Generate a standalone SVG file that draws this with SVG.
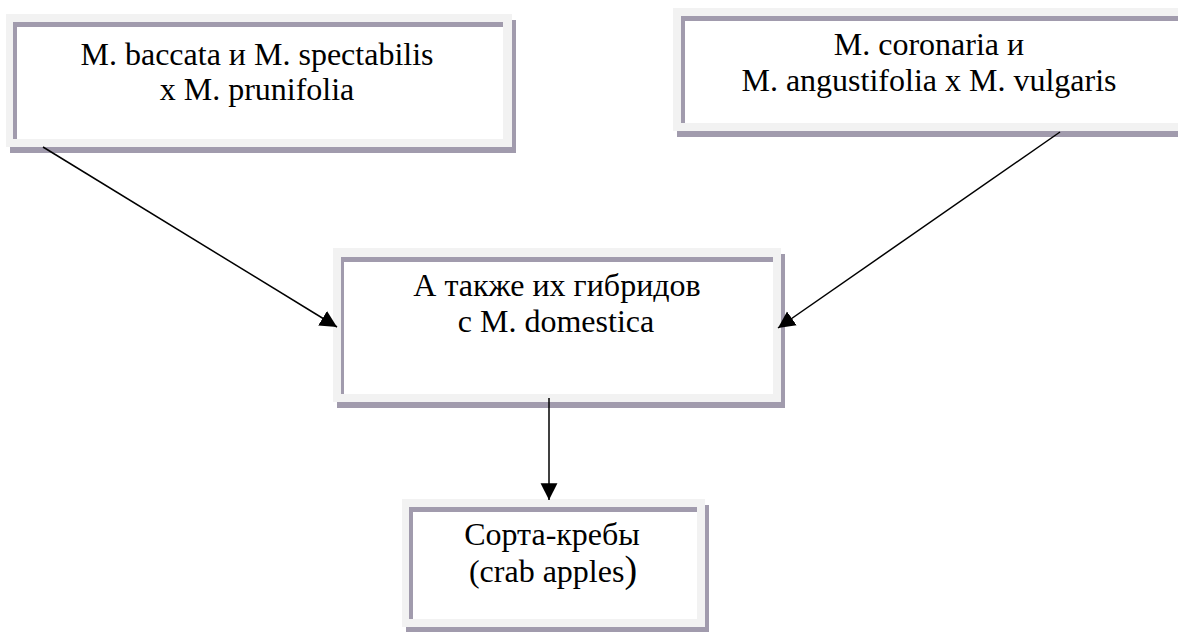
<svg xmlns="http://www.w3.org/2000/svg" width="1178" height="632" viewBox="0 0 1178 632">
<style>
.sh{fill:#a19bad}
.fr{fill:#f2f2f2}
.in{fill:#a19bad}
.wh{fill:#ffffff}
.t{font-family:'Liberation Serif', 'DejaVu Serif', serif;font-size:32px;fill:#000;text-anchor:middle}
.ln{stroke:#000;stroke-width:1.5;fill:none}
</style>
<defs>
<marker id="ah" markerUnits="userSpaceOnUse" markerWidth="18" markerHeight="18" viewBox="0 0 16 16" refX="15" refY="8" orient="auto">
<path d="M0,0.5 L15,8 L0,15.5 z" fill="#000"/>
</marker>
</defs>
<rect width="1178" height="632" fill="#fff"/>
<g id="node1">
<rect class="sh" x="10" y="20" width="506" height="133"/>
<rect class="fr" x="6" y="14" width="506" height="133"/>
<rect class="in" x="13" y="22" width="490" height="117"/>
<rect class="wh" x="17" y="27" width="486" height="112"/>
<text class="t" x="257" y="65">M. baccata и M. spectabilis</text>
<text class="t" x="257" y="100">x M. prunifolia</text>
</g>
<g id="node2">
<rect class="sh" x="677" y="14" width="510" height="123"/>
<rect class="fr" x="673" y="8" width="510" height="123"/>
<rect class="in" x="681" y="16" width="510" height="107"/>
<rect class="wh" x="685" y="21" width="510" height="102"/>
<text class="t" x="929" y="55">M. coronaria и</text>
<text class="t" x="929" y="91">M. angustifolia x M. vulgaris</text>
</g>
<g id="node3">
<rect class="sh" x="337" y="254" width="448" height="154"/>
<rect class="fr" x="333" y="248" width="448" height="154"/>
<rect class="in" x="341" y="257" width="432" height="137"/>
<rect class="wh" x="344" y="262" width="429" height="132"/>
<text class="t" x="557" y="296">А также их гибридов</text>
<text class="t" x="556" y="332">с M. domestica</text>
</g>
<g id="node4">
<rect class="sh" x="406" y="505" width="303" height="128"/>
<rect class="fr" x="402" y="499" width="303" height="128"/>
<rect class="in" x="409" y="507" width="288" height="112"/>
<rect class="wh" x="413" y="512" width="284" height="107"/>
<text class="t" x="552" y="545">Сорта-кребы</text>
<text class="t" x="553" y="582">(crab apples<tspan font-size="38">)</tspan></text>
</g>
<g id="connectors">
<line class="ln" x1="43" y1="147" x2="337" y2="327" marker-end="url(#ah)"/>
<line class="ln" x1="1060" y1="132" x2="778" y2="328" marker-end="url(#ah)"/>
<line class="ln" x1="549" y1="398" x2="549" y2="500" marker-end="url(#ah)"/>
</g>
</svg>
